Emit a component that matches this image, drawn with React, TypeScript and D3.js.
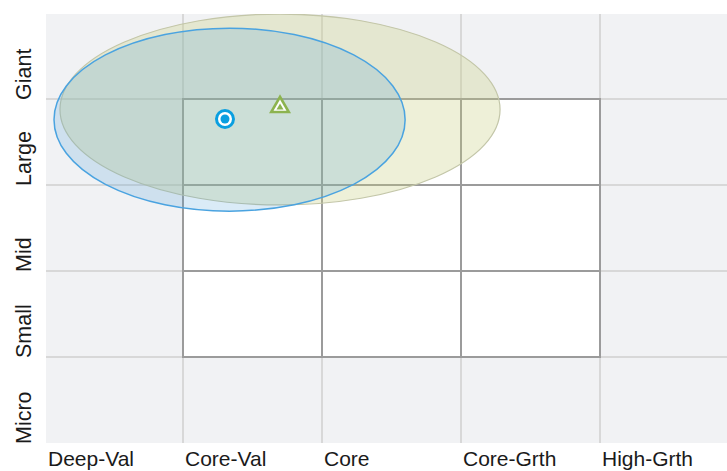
import React from "react";
import * as d3 from "d3";

// Style (x) and size (y) categories
const styleLabels = ["Deep-Val", "Core-Val", "Core", "Core-Grth", "High-Grth"];
const sizeLabels = ["Micro", "Small", "Mid", "Large", "Giant"];

// Centroid positions in style/size units (0..5) and ellipse radii
const seriesNames = ["Fund", "Benchmark"];
const centroidX = [1.302, 1.698];
const centroidY = [3.767, 3.907];
const ellipseCX = [1.335, 1.698];
const ellipseCY = [3.76, 3.878];
const ellipseRX = [1.263, 1.583];
const ellipseRY = [1.064, 1.11];

// White "core" box spans style 1..4 and size 1..4
const boxStyle = [1, 4];
const boxSize = [1, 4];

const W = 727;
const H = 471;

export default function App() {
  const x = d3.scaleLinear().domain([0, 5]).range([44, 739]);
  const y = d3.scaleLinear().domain([0, 5]).range([443, 13]);
  const plotL = 46, plotT = 14, plotR = W, plotB = 443;
  const ticks = d3.range(1, 5);
  const font = "'Liberation Sans', Arial, sans-serif";

  const tri = (cx: number, cy: number, s: number) => {
    const h = s * Math.sqrt(3) / 2;
    return `M${cx},${cy - (2 * h) / 3}L${cx + s / 2},${cy + h / 3}L${cx - s / 2},${cy + h / 3}Z`;
  };

  return (
    <svg width={W} height={H} style={{ position: "absolute", left: 0, top: 0, display: "block" }}>
      <defs>
        <clipPath id="plotclip">
          <rect x={plotL} y={plotT} width={plotR - plotL} height={plotB - plotT} />
        </clipPath>
      </defs>
      <rect x={0} y={0} width={W} height={H} fill="#ffffff" />
      <rect x={plotL} y={plotT} width={plotR - plotL} height={plotB - plotT} fill="#f1f2f4" />
      {/* light grid */}
      <g stroke="#d8d8d8" strokeWidth={2} clipPath="url(#plotclip)">
        {ticks.map((t) => (
          <line key={"vx" + t} x1={x(t)} x2={x(t)} y1={plotT} y2={plotB} />
        ))}
        {ticks.map((t) => (
          <line key={"hy" + t} x1={plotL} x2={plotR} y1={y(t)} y2={y(t)} />
        ))}
      </g>
      {/* white core box */}
      <rect
        x={x(boxStyle[0])}
        y={y(boxSize[1])}
        width={x(boxStyle[1]) - x(boxStyle[0])}
        height={y(boxSize[0]) - y(boxSize[1])}
        fill="#ffffff"
      />
      <g stroke="#9b9b9b" strokeWidth={2}>
        {d3.range(boxStyle[0], boxStyle[1] + 1).map((t) => (
          <line key={"bx" + t} x1={x(t)} x2={x(t)} y1={y(boxSize[1])} y2={y(boxSize[0])} />
        ))}
        {d3.range(boxSize[0], boxSize[1] + 1).map((t) => (
          <line key={"by" + t} x1={x(boxStyle[0]) - 1} x2={x(boxStyle[1]) + 1} y1={y(t)} y2={y(t)} />
        ))}
      </g>
      {/* ellipses */}
      <g clipPath="url(#plotclip)">
        <ellipse
          cx={x(ellipseCX[1])}
          cy={y(ellipseCY[1])}
          rx={x(ellipseRX[1]) - x(0)}
          ry={y(0) - y(ellipseRY[1])}
          fill="rgb(198,205,125)"
          fillOpacity={0.3}
          stroke="#c3c6a8"
          strokeWidth={1.2}
        />
        <ellipse
          cx={x(ellipseCX[0])}
          cy={y(ellipseCY[0])}
          rx={x(ellipseRX[0]) - x(0)}
          ry={y(0) - y(ellipseRY[0])}
          fill="rgb(71,157,214)"
          fillOpacity={0.2}
          stroke="#4aa3e0"
          strokeWidth={1.5}
        />
      </g>
      {/* benchmark triangle */}
      <g>
        <path d={tri(x(centroidX[1]), y(centroidY[1]), 22)} fill="#8cb34f" />
        <path d={tri(x(centroidX[1]), y(centroidY[1]), 13)} fill="#ffffff" />
        <path d={tri(x(centroidX[1]), y(centroidY[1]) + 0.5, 7)} fill="#8cb34f" />
      </g>
      {/* fund circle */}
      <g>
        <circle cx={x(centroidX[0])} cy={y(centroidY[0])} r={10} fill="#0a9fe0" />
        <circle cx={x(centroidX[0])} cy={y(centroidY[0])} r={7} fill="#ffffff" />
        <circle cx={x(centroidX[0])} cy={y(centroidY[0])} r={4.5} fill="#0a9fe0" />
      </g>
      {/* x labels */}
      <g fontFamily={font} fontSize={21} fill="#1a1a1a">
        {styleLabels.map((s, i) => (
          <text key={s} x={i === 0 ? plotL + 2 : x(i) + 2} y={466}>
            {s}
          </text>
        ))}
      </g>
      {/* y labels */}
      <g fontFamily={font} fontSize={21.5} fill="#1a1a1a">
        {sizeLabels.map((s, i) => (
          <text key={s} transform={`translate(31,${y(i) + 1}) rotate(-90)`} textAnchor="start">
            {s}
          </text>
        ))}
      </g>
      <title>{seriesNames.join(" vs ")}</title>
    </svg>
  );
}
